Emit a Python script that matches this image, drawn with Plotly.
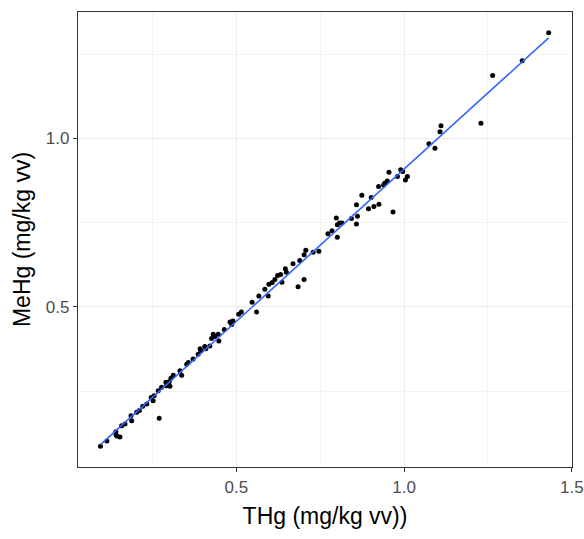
import numpy as np
import plotly.graph_objects as go

# THg vs MeHg (mg/kg vv)
thg = [0.095, 0.114, 0.144, 0.153, 0.141, 0.141, 0.158, 0.168, 0.188, 0.186,
       0.203, 0.211, 0.221, 0.233, 0.246, 0.255, 0.252, 0.270, 0.267, 0.277,
       0.290, 0.300, 0.292, 0.302, 0.305, 0.312, 0.332, 0.337, 0.352, 0.357,
       0.371, 0.386, 0.394, 0.406, 0.409, 0.421, 0.426, 0.436, 0.446, 0.448,
       0.464, 0.481, 0.486, 0.490, 0.507, 0.515, 0.547, 0.560, 0.567, 0.585,
       0.595, 0.597, 0.607, 0.615, 0.623, 0.632, 0.636, 0.646, 0.649, 0.669,
       0.684, 0.702, 0.689, 0.702, 0.707, 0.729, 0.746, 0.773, 0.785, 0.798,
       0.801, 0.808, 0.801, 0.815, 0.843, 0.858, 0.861, 0.858, 0.874, 0.894,
       0.902, 0.910, 0.925, 0.924, 0.942, 0.950, 0.955, 0.967, 0.980, 0.990,
       0.996, 1.004, 1.010, 1.074, 1.092, 1.107, 1.110, 1.229, 1.264, 1.352,
       1.431, 0.939, 0.392, 0.431]
mehg = [0.086, 0.102, 0.117, 0.114, 0.120, 0.129, 0.147, 0.152, 0.162, 0.177,
        0.187, 0.192, 0.205, 0.212, 0.231, 0.236, 0.221, 0.169, 0.251, 0.261,
        0.276, 0.278, 0.266, 0.264, 0.288, 0.297, 0.310, 0.297, 0.330, 0.335,
        0.345, 0.359, 0.369, 0.382, 0.376, 0.384, 0.406, 0.412, 0.419, 0.399,
        0.433, 0.455, 0.448, 0.458, 0.478, 0.485, 0.514, 0.485, 0.532, 0.552,
        0.532, 0.567, 0.572, 0.581, 0.593, 0.596, 0.573, 0.613, 0.603, 0.628,
        0.560, 0.581, 0.638, 0.655, 0.668, 0.662, 0.665, 0.717, 0.726, 0.764,
        0.744, 0.749, 0.707, 0.749, 0.762, 0.803, 0.769, 0.746, 0.831, 0.791,
        0.825, 0.798, 0.805, 0.857, 0.867, 0.874, 0.900, 0.782, 0.887, 0.907,
        0.902, 0.877, 0.887, 0.984, 0.971, 1.020, 1.038, 1.045, 1.187, 1.231,
        1.314, 0.862, 0.376, 0.419]

x_ticks = [0.5, 1.0, 1.5]
y_ticks = [0.5, 1.0]

# linear fit like geom_smooth(method = "lm", se = FALSE)
slope, intercept = np.polyfit(thg, mehg, 1)
fit_x = np.linspace(min(thg), max(thg), 80)
fit_y = slope * fit_x + intercept

fig = go.Figure()
fig.add_trace(go.Scatter(x=thg, y=mehg, mode="markers",
                         marker=dict(color="black", size=5), showlegend=False))
fig.add_trace(go.Scatter(x=fit_x, y=fit_y, mode="lines",
                         line=dict(color="#3366FF", width=1.6), showlegend=False))

font_name = "Liberation Sans, Arial"
axis_style = dict(
    showline=True, mirror=True, linecolor="#333333", linewidth=1.3,
    showgrid=True, gridcolor="#EBEBEB", gridwidth=1,
    ticks="outside", ticklen=4, tickcolor="#333333", tickwidth=1.1,
    tickfont=dict(family=font_name, size=17, color="#4D4D4D"),
    zeroline=False, automargin=False,
    minor=dict(dtick=0.25, showgrid=True, gridcolor="#F3F3F3", gridwidth=0.6),
)

span_y = max(mehg) - min(mehg)

fig.update_xaxes(
    tickvals=x_ticks, ticktext=[f"{v:.1f}" for v in x_ticks],
    range=[0.028, 1.5005],
    title=dict(text="THg (mg/kg vv))", font=dict(family=font_name, size=23, color="black"), standoff=12),
    **axis_style,
)
fig.update_yaxes(
    tickvals=y_ticks, ticktext=[f"{v:.1f}" for v in y_ticks],
    range=[min(mehg) - 0.05 * span_y, max(mehg) + 0.05 * span_y],
    title=dict(text="MeHg (mg/kg vv)", font=dict(family=font_name, size=23, color="black"), standoff=8),
    **axis_style,
)

fig.update_layout(
    width=584, height=539,
    paper_bgcolor="white", plot_bgcolor="white",
    margin=dict(l=78, r=12, t=12, b=72),
)

fig.write_html("out.html", config={"displayModeBar": False},
               post_script="document.body.style.margin='0';")
